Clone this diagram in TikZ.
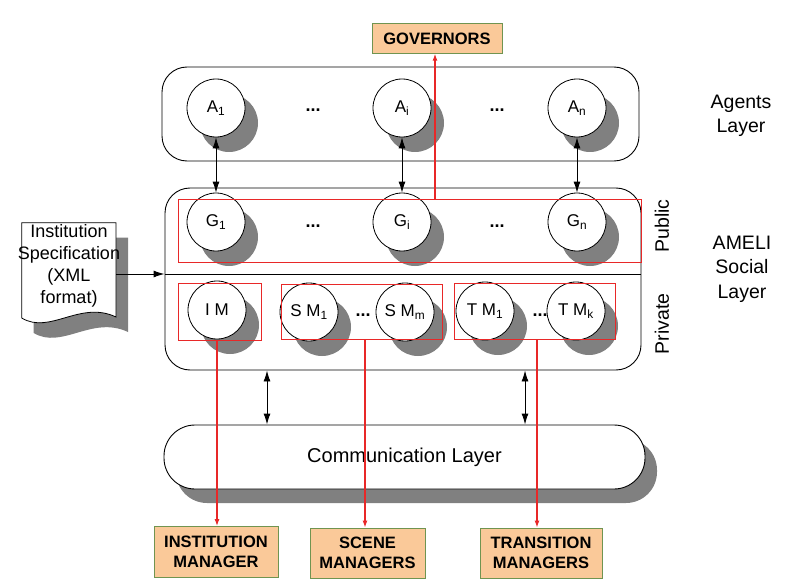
\documentclass[tikz,border=0pt]{standalone}
\usepackage{fontspec}
\setmainfont{Liberation Sans}
\usepackage{tikz}
\usetikzlibrary{shapes,arrows,arrows.meta,shadows}
\definecolor{myorange}{RGB}{250,201,153}
\definecolor{mygreen}{RGB}{112,148,80}
\definecolor{myred}{RGB}{232,40,40}
\definecolor{shadowgray}{RGB}{128,128,128}

\begin{document}
\begin{tikzpicture}[x=1pt,y=-1pt]

\tikzstyle{layer} = [draw, rounded corners=25pt, fill=white, line width=0.9pt]
\tikzstyle{agent} = [draw, circle, fill=white, minimum size=58pt, inner sep=0pt, line width=0.8pt,
font=\fontsize{17}{20}\selectfont, general shadow={fill=shadowgray, shadow xshift=13pt, shadow yshift=-15pt}]
\tikzstyle{dots} = [font=\fontsize{18}{20}\selectfont\bfseries, inner sep=0pt]
\tikzstyle{red-b} = [draw=myred, line width=0.9pt, inner sep=0pt]
\tikzstyle{orange_block} = [draw=mygreen, fill=myorange, line width=0.9pt, align=center,
font=\fontsize{16.5}{20}\selectfont\bfseries, inner sep=0pt]
\tikzstyle{side_label} = [align=center, font=\fontsize{19.5}{24.5}\selectfont]
\tikzstyle{dbl} = [{Latex[length=11pt,width=7pt]}-{Latex[length=11pt,width=7pt]}, line width=0.9pt]
\tikzstyle{red_arrow} = [-{Latex[length=7pt,width=5pt]}, draw=myred, fill=myred, line width=1.2pt]

\useasboundingbox (0,0) rectangle (801,583);

\node [layer, minimum width=477pt, minimum height=94pt] (agents) at (400.5,114) {};
\node [layer, minimum width=476pt, minimum height=182pt] (social) at (403,279) {};
\coordinate (sep) at (0,274);
\draw [line width=0.9pt] (social.west |- sep) -- (social.east |- sep);

\node [agent] (a1) at (216,108) {A\textsubscript{1}};
\node [agent] (ai) at (402,108) {A\textsubscript{i}};
\node [agent] (an) at (577,108) {A\textsubscript{n}};
\node [dots] (ad1) at (313,110) {...};
\node [dots] (ad2) at (497,110) {...};

\node [agent] (g1) at (216,222) {G\textsubscript{1}};
\node [agent] (gi) at (402,222) {G\textsubscript{i}};
\node [agent] (gn) at (577,222) {G\textsubscript{n}};
\node [dots] (gd1) at (313,226) {...};
\node [dots] (gd2) at (497,226) {...};

\node [agent] (im) at (217,310) {I M};
\node [agent] (sm1) at (309,312) {S M\textsubscript{1}};
\node [agent] (smm) at (405,312) {S M\textsubscript{m}};
\node [agent] (tm1) at (485,311) {T M\textsubscript{1}};
\node [agent] (tmk) at (576,311) {T M\textsubscript{k}};
\node [dots] (sd) at (363,315) {...};
\node [dots] (td) at (540,315) {...};

\node [red-b, minimum width=463pt, minimum height=63pt] (pub) at (409.5,230.5) {};
\node [red-b, minimum width=83pt, minimum height=57pt] (imbox) at (219.5,311.5) {};
\node [red-b, minimum width=161pt, minimum height=55pt] (smbox) at (361.5,311.5) {};
\node [red-b, minimum width=161pt, minimum height=56pt] (tmbox) at (534.5,311.5) {};

\draw [dbl] (a1) -- (g1);
\draw [dbl] (ai) -- (gi);
\draw [dbl] (an) -- (gn);

% communication layer
\node [layer, rounded corners=31pt, minimum width=481pt, minimum height=64pt,
font=\fontsize{20}{24}\selectfont,
general shadow={fill=shadowgray, shadow xshift=12pt, shadow yshift=-14pt}] (comm) at (404.5,457) {Communication Layer};

\coordinate (c1) at (267,400);
\coordinate (c2) at (525,400);
\draw [dbl] (social.south -| c1) -- (comm.north -| c1);
\draw [dbl] (social.south -| c2) -- (comm.north -| c2);

% managers
\node [orange_block, minimum width=130pt, minimum height=29.5pt] (gov) at (437,38.5) {GOVERNORS};
\node [orange_block, minimum width=124pt, minimum height=51pt] (instm) at (216,552) {INSTITUTION\\MANAGER};
\node [orange_block, minimum width=115pt, minimum height=50pt] (scm) at (367.5,553) {SCENE\\MANAGERS};
\node [orange_block, minimum width=122pt, minimum height=50pt] (trm) at (541,553) {TRANSITION\\MANAGERS};

\draw [red_arrow] (pub.north -| 435,0) -- (gov.south -| 435,0);
\draw [red_arrow] (imbox.south -| 217,0) -- (instm.north -| 217,0);
\draw [red_arrow] (smbox.south -| 365,0) -- (scm.north -| 365,0);
\draw [red_arrow] (tmbox.south -| 537,0) -- (trm.north -| 537,0);

% institution specification document
\fill [shadowgray, shift={(12,15)}] (21.7,222.7) -- (116,222.7) -- (116,317)
  .. controls (80,300) and (50,335) .. (21.7,318) -- cycle;
\draw [fill=white, line width=0.8pt] (21.7,222.7) -- (116,222.7) -- (116,317)
  .. controls (80,300) and (50,335) .. (21.7,318) -- cycle;
\node [align=center, font=\fontsize{18}{22}\selectfont, inner sep=0pt] (spec) at (69,266)
  {Institution\\Specification\\(XML\\format)};
\coordinate (docr) at (116,274);
\draw [-{Latex[length=11pt,width=7pt]}, line width=0.9pt] (docr) -- (social.west |- docr);

% side labels
\node [side_label] (agl) at (741,116) {Agents\\Layer};
\node [side_label] (amel) at (742,269) {AMELI\\Social\\Layer};
\node [side_label, rotate=90] (publ) at (662,226) {Public};
\node [side_label, rotate=90] (privl) at (662,324) {Private};

\end{tikzpicture}
\end{document}
